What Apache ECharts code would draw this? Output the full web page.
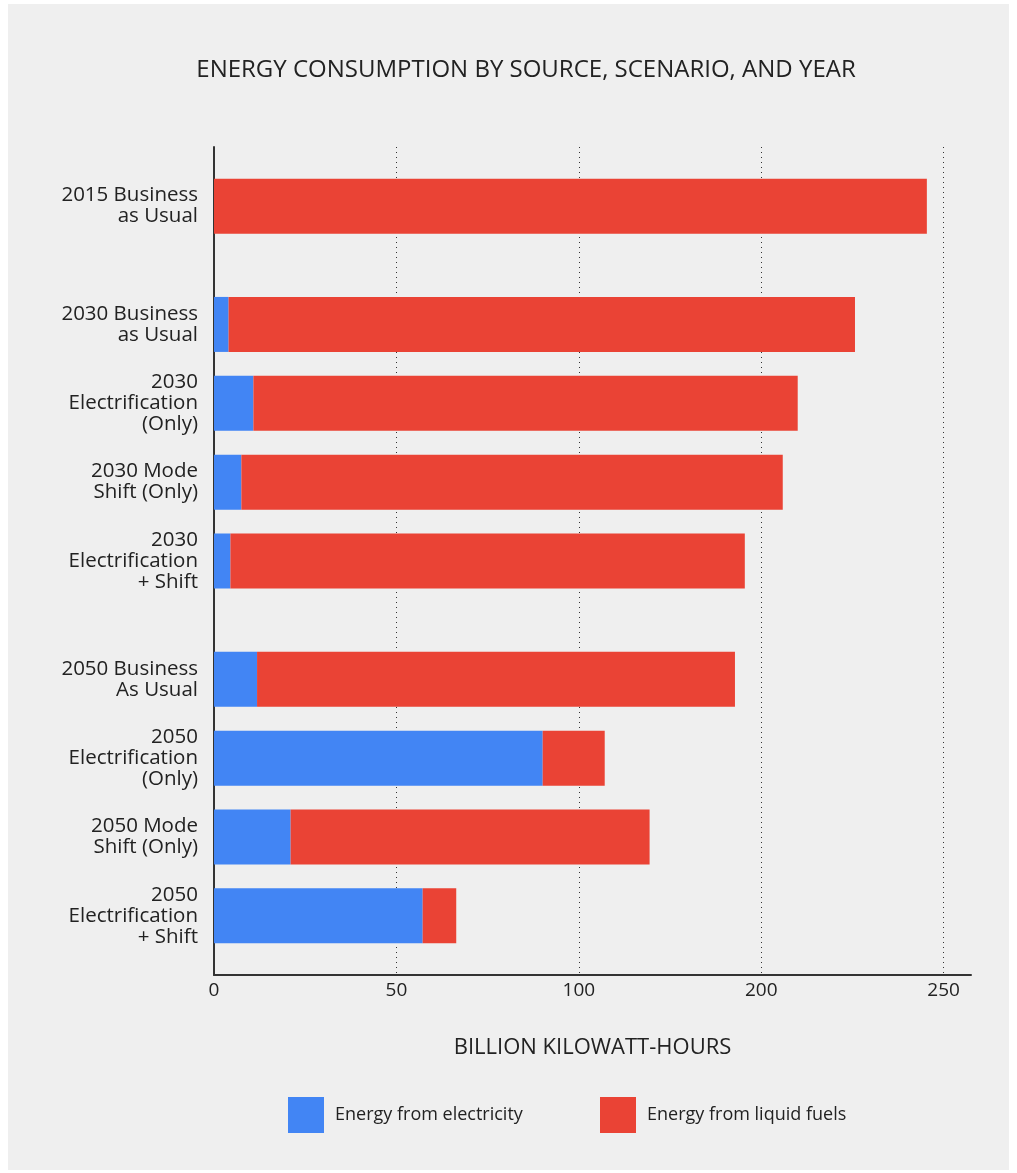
<!DOCTYPE html>
<html>
<head>
<meta charset="utf-8">
<script src="https://cdn.jsdelivr.net/npm/echarts@6/dist/echarts.min.js"></script>
<style>
  html, body { margin: 0; padding: 0; background: #ffffff; }
  #panel { position: absolute; left: 8px; top: 4px; width: 1001px; height: 1166px; background: #efefef; }
  #chart { position: absolute; left: 0; top: 0; width: 1017px; height: 1173px; }
</style>
</head>
<body>
<div id="panel"></div>
<div id="chart"></div>
<script>
// ---- data ----
const groups2015 = ['2015 Business\nas Usual'];
const groups2030 = ['2030 Business\nas Usual', '2030\nElectrification\n(Only)', '2030 Mode\nShift (Only)', '2030\nElectrification\n+ Shift'];
const groups2050 = ['2050 Business\nAs Usual', '2050\nElectrification\n(Only)', '2050 Mode\nShift (Only)', '2050\nElectrification\n+ Shift'];

const electricity  = [0,     4.0,   10.8,  7.5,   4.5,   11.8,  90.1, 21.0, 57.2];
const liquidFuels  = [195.4, 171.7, 149.2, 148.4, 141.0, 131.0, 17.0, 98.4, 9.2];

const tickValues = [0, 50, 100, 150, 200];
const tickLabels = ['0', '50', '100', '200', '250'];

const seriesNames = ['Energy from electricity', 'Energy from liquid fuels'];
const colors = ['#4285f4', '#ea4335'];

// ---- build slotted category axis (blank spacer slots between bars and groups) ----
const groups = [groups2015, groups2030, groups2050];
const slots = [];   // category label or '' for spacer
const slotIdx = []; // which data row occupies the slot (-1 spacer)
let k = 0;
slots.push(''); slotIdx.push(-1);
groups.forEach((g, gi) => {
  if (gi > 0) { slots.push(''); slotIdx.push(-1); }
  g.forEach(label => {
    slots.push(label); slotIdx.push(k++);
    slots.push(''); slotIdx.push(-1);
  });
});
const cats = slots.map((s, i) => s === '' ? 'gap' + i : s);
const mapData = arr => slotIdx.map(i => i < 0 ? '-' : arr[i]);

const FONT = '"Open Sans", "Noto Sans", sans-serif';
const chart = echarts.init(document.getElementById('chart'));
chart.setOption({
  backgroundColor: 'transparent',
  animation: false,
  textStyle: { fontFamily: FONT, color: '#222' },
  title: {
    text: 'ENERGY CONSUMPTION BY SOURCE, SCENARIO, AND YEAR',
    left: 521, top: 53, textAlign: 'center',
    textStyle: { fontFamily: FONT, fontSize: 24, fontWeight: 'normal', color: '#222' }
  },
  legend: [
    { data: [seriesNames[0]], left: 288, top: 1097, padding: 0, itemWidth: 36, itemHeight: 36, icon: 'rect',
      textStyle: { fontFamily: FONT, fontSize: 18, color: '#222', padding: [0, 0, 0, 6] } },
    { data: [seriesNames[1]], left: 600, top: 1097, padding: 0, itemWidth: 36, itemHeight: 36, icon: 'rect',
      textStyle: { fontFamily: FONT, fontSize: 18, color: '#222', padding: [0, 0, 0, 6] } }
  ],
  grid: { left: 214, right: 46, top: 147, bottom: 198, containLabel: false },
  xAxis: {
    type: 'value', min: 0, max: 207.5, interval: 50,
    name: 'BILLION KILOWATT-HOURS', nameLocation: 'middle', nameGap: 62,
    nameTextStyle: { fontFamily: FONT, fontSize: 22, color: '#222' },
    axisLine: { show: true, onZero: false, lineStyle: { color: '#333', width: 2 } },
    axisTick: { show: false },
    axisLabel: {
      fontFamily: FONT, fontSize: 19, color: '#222', margin: 6,
      showMaxLabel: false,
      formatter: v => { const i = tickValues.indexOf(v); return i >= 0 ? tickLabels[i] : ''; }
    },
    splitLine: { show: true, showMinLine: false, showMaxLine: false, lineStyle: { color: '#333', type: [1, 4], width: 1 } }
  },
  yAxis: {
    type: 'category', inverse: true, data: cats,
    axisLine: { show: true, lineStyle: { color: '#333', width: 2 } },
    axisTick: { show: false },
    axisLabel: {
      interval: 0, margin: 16, fontFamily: FONT, fontSize: 20.5, lineHeight: 21, color: '#222', align: 'right',
      formatter: v => v.startsWith('gap') ? '' : v
    },
    splitLine: { show: false }
  },
  series: [
    { name: seriesNames[0], type: 'bar', stack: 'total', barWidth: 55, data: mapData(electricity),
      itemStyle: { color: colors[0] } },
    { name: seriesNames[1], type: 'bar', stack: 'total', barWidth: 55, data: mapData(liquidFuels),
      itemStyle: { color: colors[1] } }
  ]
});
</script>
</body>
</html>
